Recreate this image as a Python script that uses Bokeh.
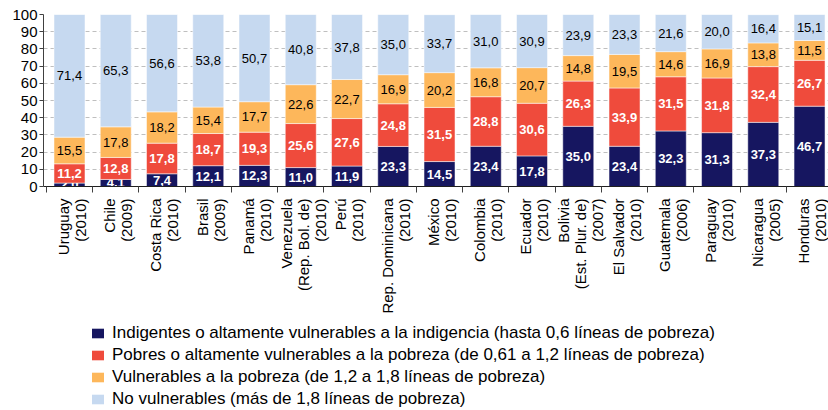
import math
from bokeh.plotting import figure
from bokeh.layouts import column
from bokeh.models import (Range1d, FixedTicker, Legend, LegendItem, ColumnDataSource)
from bokeh.core.properties import value
from bokeh.embed import file_html
from bokeh.resources import INLINE

countries = ["Uruguay\n(2010)", "Chile\n(2009)", "Costa Rica\n(2010)", "Brasil\n(2009)",
             "Panamá\n(2010)", "Venezuela\n(Rep. Bol. de)\n(2010)", "Perú\n(2010)",
             "Rep. Dominicana\n(2010)", "México\n(2010)", "Colombia\n(2010)", "Ecuador\n(2010)",
             "Bolivia\n(Est. Plur. de)\n(2007)", "El Salvador\n(2010)", "Guatemala\n(2006)",
             "Paraguay\n(2010)", "Nicaragua\n(2005)", "Honduras\n(2010)"]

indigentes = [2.0, 4.1, 7.4, 12.1, 12.3, 11.0, 11.9, 23.3, 14.5, 23.4, 17.8, 35.0, 23.4, 32.3, 31.3, 37.3, 46.7]
pobres = [11.2, 12.8, 17.8, 18.7, 19.3, 25.6, 27.6, 24.8, 31.5, 28.8, 30.6, 26.3, 33.9, 31.5, 31.8, 32.4, 26.7]
vulnerables = [15.5, 17.8, 18.2, 15.4, 17.7, 22.6, 22.7, 16.9, 20.2, 16.8, 20.7, 14.8, 19.5, 14.6, 16.9, 13.8, 11.5]
no_vulnerables = [71.4, 65.3, 56.6, 53.8, 50.7, 40.8, 37.8, 35.0, 33.7, 31.0, 30.9, 23.9, 23.3, 21.6, 20.0, 16.4, 15.1]

series_names = [
    "Indigentes o altamente vulnerables a la indigencia (hasta 0,6 líneas de pobreza)",
    "Pobres o altamente vulnerables a la pobreza (de 0,61 a 1,2 líneas de pobreza)",
    "Vulnerables a la pobreza (de 1,2 a 1,8 líneas de pobreza)",
    "No vulnerables (más de 1,8 líneas de pobreza)",
]
y_ticks = [0, 10, 20, 30, 40, 50, 60, 70, 80, 90, 100]

colors = ["#161660", "#EF4B3C", "#FDB75B", "#C6D9F0"]
label_colors = ["white", "white", "black", "black"]
label_styles = ["bold", "bold", "normal", "normal"]
FONT = "Liberation Sans"

series = [indigentes, pobres, vulnerables, no_vulnerables]
xs = list(range(len(countries)))

p = figure(width=828, height=320, output_backend="svg", toolbar_location=None,
           x_range=Range1d(-0.562, 16.41), y_range=Range1d(0, 100),
           min_border_left=43, min_border_right=0, min_border_top=14, min_border_bottom=134)
p.outline_line_color = None
p.background_fill_color = "white"

renderers = []
bottoms = [0.0] * len(xs)
for k, vals in enumerate(series):
    tops = [b + v for b, v in zip(bottoms, vals)]
    src = ColumnDataSource(dict(x=xs, bottom=bottoms, top=tops))
    r = p.vbar(x="x", bottom="bottom", top="top", width=0.67, source=src,
               fill_color=colors[k], line_color="white", line_width=0.5)
    renderers.append(r)
    mids = [b + v / 2 for b, v in zip(bottoms, vals)]
    labels = [f"{v:.1f}".replace(".", ",") for v in vals]
    tsrc = ColumnDataSource(dict(x=xs, y=mids, t=labels))
    p.text(x="x", y="y", text="t", source=tsrc, text_align="center", text_baseline="middle",
           text_font=value(FONT), text_font_size="13px", text_color=label_colors[k],
           text_font_style=label_styles[k])
    bottoms = tops

# axes
p.yaxis.ticker = FixedTicker(ticks=y_ticks)
p.yaxis.major_label_text_font = FONT
p.yaxis.major_label_text_font_size = "15px"
p.yaxis.major_label_text_color = "black"
p.yaxis.major_tick_in = 0
p.yaxis.major_tick_out = 4
p.yaxis.minor_tick_out = 0
p.yaxis.minor_tick_in = 0
p.yaxis.major_label_standoff = 2
p.yaxis.axis_line_color = "#404040"
p.yaxis.major_tick_line_color = "#404040"

# label positions slightly shifted so the multi-line blocks sit centred under the bars
label_pos = [i + 0.05 for i in xs]
p.xaxis.ticker = FixedTicker(ticks=label_pos, minor_ticks=[i + 0.5 for i in range(-1, len(xs))])
p.xaxis.major_label_overrides = {pos: c for pos, c in zip(label_pos, countries)}
p.xaxis.major_label_orientation = math.pi / 2
p.xaxis.major_label_text_font = FONT
p.xaxis.major_label_text_font_size = "15px"
p.xaxis.major_label_text_line_height = 1.0
p.xaxis.major_label_text_color = "black"
p.xaxis.major_tick_in = 0
p.xaxis.major_tick_out = 0
p.xaxis.minor_tick_in = 0
p.xaxis.minor_tick_out = 6
p.xaxis.minor_tick_line_color = "#404040"
p.xaxis.major_label_standoff = 6
p.xaxis.axis_line_color = "#202020"

p.xgrid.visible = False
p.ygrid.ticker = FixedTicker(ticks=y_ticks)
p.ygrid.grid_line_color = "#BFBFBF"
p.ygrid.grid_line_dash = "4 3"

# legend figure below the chart
pl = figure(width=828, height=90, output_backend="svg", toolbar_location=None,
            x_range=Range1d(0, 1), y_range=Range1d(0, 1),
            min_border_left=0, min_border_right=0, min_border_top=0, min_border_bottom=0,
            x_axis_location=None, y_axis_location=None)
pl.outline_line_color = None
pl.grid.visible = False
dummies = []
for k in range(4):
    # a single off-range bar per series so that the legend can draw its swatch
    dummies.append(pl.vbar(x=[5], top=[5], bottom=[4], width=0.5,
                           fill_color=colors[k], line_color=None))

legend = Legend(items=[LegendItem(label=series_names[k], renderers=[dummies[k]]) for k in range(4)],
                location=(47, 0), orientation="vertical", border_line_color=None,
                background_fill_alpha=0, label_text_font=FONT, label_text_font_size="17px",
                label_text_color="black", glyph_width=15, glyph_height=12, label_standoff=7,
                label_height=22, spacing=0, padding=0, margin=0)
pl.add_layout(legend, "center")

layout = column(p, pl, spacing=0)
open("out.html", "w").write(file_html(layout, INLINE))
